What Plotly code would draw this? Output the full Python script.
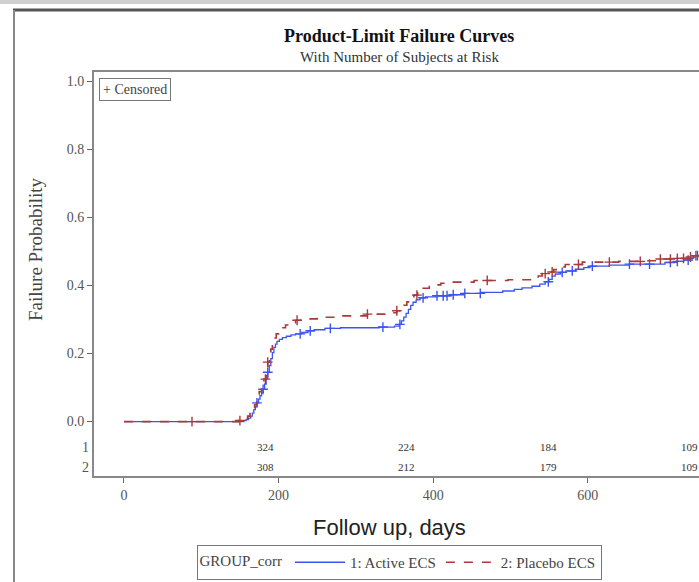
import numpy as np
import plotly.graph_objects as go

# ---- Kaplan-Meier failure estimates (event day, cumulative failure probability) ----
active_days = [0, 155, 158, 161, 164, 166, 168, 170, 172, 174, 176, 178, 180, 182, 184, 186,
               188, 190, 192, 194, 196, 198, 201, 205, 210, 216, 222, 230, 238, 246, 260,
               280, 330, 350, 356, 359, 362, 365, 368, 371, 374, 378, 383, 390, 405, 422,
               440, 462, 490, 505, 515, 528, 538, 545, 550, 554, 558, 565, 572, 584, 595,
               603, 628, 654, 700, 715, 724, 732, 737]
active_fail = [0.0, 0.003, 0.006, 0.010, 0.016, 0.025, 0.035, 0.045, 0.055, 0.066, 0.076,
               0.085, 0.095, 0.110, 0.127, 0.145, 0.165, 0.185, 0.203, 0.218, 0.228, 0.236,
               0.242, 0.247, 0.251, 0.255, 0.258, 0.262, 0.267, 0.270, 0.274, 0.276, 0.278,
               0.281, 0.286, 0.296, 0.307, 0.318, 0.330, 0.342, 0.351, 0.358, 0.364, 0.367,
               0.370, 0.373, 0.377, 0.380, 0.384, 0.389, 0.393, 0.398, 0.404, 0.411, 0.418,
               0.428, 0.434, 0.439, 0.443, 0.448, 0.453, 0.457, 0.460, 0.463, 0.468, 0.471,
               0.475, 0.480, 0.488]

placebo_days = [0, 148, 153, 157, 160, 163, 166, 169, 172, 175, 178, 181, 184, 186, 188, 190,
                192, 194, 197, 200, 204, 209, 215, 222, 232, 250, 280, 315, 340, 353, 358,
                362, 366, 370, 375, 380, 387, 395, 410, 425, 453, 497, 530, 536, 541, 548,
                556, 563, 571, 593, 640, 672, 694, 712, 733, 742]
placebo_fail = [0.0, 0.003, 0.006, 0.010, 0.016, 0.024, 0.035, 0.050, 0.068, 0.088, 0.105,
                0.125, 0.150, 0.175, 0.195, 0.213, 0.232, 0.246, 0.258, 0.266, 0.276, 0.284,
                0.291, 0.298, 0.302, 0.307, 0.311, 0.316, 0.320, 0.326, 0.333, 0.342, 0.352,
                0.362, 0.372, 0.381, 0.392, 0.402, 0.407, 0.410, 0.415, 0.417, 0.420, 0.428,
                0.435, 0.440, 0.447, 0.455, 0.462, 0.469, 0.471, 0.473, 0.478, 0.480, 0.484,
                0.488]

# censoring days
active_cens = [172, 180, 186, 228, 241, 267, 335, 357, 387, 405, 413, 418, 426, 441, 461,
               549, 567, 580, 606, 654, 680, 707, 716, 730, 740]
placebo_cens = [88, 150, 183, 186, 224, 315, 353, 379, 470, 545, 554, 588, 628, 668, 694,
                707, 716, 724, 733, 742]

last_day = 745

# number at risk (every half year)
risk_days = [183, 366, 549, 732]
risk_active = ["324", "224", "184", "109"]
risk_placebo = ["308", "212", "179", "109"]

group_names = ["1: Active ECS", "2: Placebo ECS"]
blue = "#3a55ee"
red = "#a83a3a"
serif = "Liberation Serif"

# pixel geometry of the plotting area
L, T, W, H = 94, 72, 605, 404


def px_x(px):
    return (px - L) / W


def px_y(py):
    return (T + H - py) / H


def fail_at(days, fail, t):
    i = np.searchsorted(np.asarray(days), t, side="right") - 1
    return np.asarray(fail)[i]


fig = go.Figure()

for days, fail, cens, name, col, dash, w in [
    (active_days, active_fail, active_cens, group_names[0], blue, "solid", 1.3),
    (placebo_days, placebo_fail, placebo_cens, group_names[1], red, "dash", 1.6),
]:
    fig.add_trace(go.Scatter(
        x=list(days) + [last_day], y=list(fail) + [fail[-1]],
        mode="lines", line=dict(color=col, width=w, dash=dash, shape="hv"),
        name=name, showlegend=True,
    ))
    fig.add_trace(go.Scatter(
        x=cens, y=fail_at(days, fail, cens), mode="markers",
        marker=dict(symbol="cross-thin", size=7, line=dict(color=col, width=1.4), color=col),
        showlegend=False, hoverinfo="skip",
    ))

# number-at-risk table rows
for row_y, vals in [(-0.075, risk_active), (-0.134, risk_placebo)]:
    for d, v in zip(risk_days, vals):
        fig.add_annotation(x=d, y=row_y, xref="x", yref="y", text=v, showarrow=False,
                           font=dict(family=serif, size=11, color="#333"))
for row_y, lab in [(-0.075, "1"), (-0.134, "2")]:
    fig.add_annotation(x=px_x(91), y=row_y, xref="paper", yref="y", text=lab, showarrow=False,
                       xanchor="right", font=dict(family=serif, size=14, color="#555"))

# titles
fig.add_annotation(x=px_x(399), y=px_y(36), xref="paper", yref="paper", yanchor="middle",
                   text="<b>Product-Limit Failure Curves</b>", showarrow=False,
                   font=dict(family=serif, size=18, color="#111"))
fig.add_annotation(x=px_x(399), y=px_y(57), xref="paper", yref="paper", yanchor="middle",
                   text="With Number of Subjects at Risk", showarrow=False,
                   font=dict(family=serif, size=15, color="#333"))
fig.add_annotation(x=px_x(389), y=px_y(527), xref="paper", yref="paper", yanchor="middle",
                   text="Follow up, days", showarrow=False,
                   font=dict(family="Liberation Sans", size=22, color="#222"))
fig.add_annotation(x=px_x(36), y=px_y(249), xref="paper", yref="paper",
                   xanchor="center", yanchor="middle",
                   text="Failure Probability", showarrow=False, textangle=-90,
                   font=dict(family=serif, size=19, color="#444"))

# censored key box
fig.add_annotation(x=px_x(99), y=px_y(78), xref="paper", yref="paper",
                   xanchor="left", yanchor="top", text="+ Censored", showarrow=False,
                   bordercolor="#777", borderwidth=1, borderpad=3, bgcolor="white",
                   font=dict(family=serif, size=14, color="#444"))

# outer frame of the output page
fig.add_shape(type="rect", xref="paper", yref="paper", x0=px_x(0), x1=1.0,
              y0=px_y(0), y1=px_y(4), fillcolor="#d0d0d0",
              line=dict(width=0), layer="below")
fig.add_shape(type="line", xref="paper", yref="paper", x0=px_x(13), x1=1.0,
              y0=px_y(10), y1=px_y(10), line=dict(color="#555", width=3))
fig.add_shape(type="line", xref="paper", yref="paper", x0=px_x(14), x1=px_x(14),
              y0=px_y(10), y1=px_y(582), line=dict(color="#888", width=2))

fig.update_layout(
    width=699, height=582,
    margin=dict(l=L, r=699 - L - W, t=T, b=582 - T - H),
    paper_bgcolor="white", plot_bgcolor="white",
    xaxis=dict(range=[-38.8, 744], tickvals=[0, 200, 400, 600], ticks="outside",
               ticklen=5, tickcolor="#666", showgrid=False, zeroline=False,
               showline=True, linecolor="#888", linewidth=2, mirror=True,
               tickfont=dict(family=serif, size=14, color="#555")),
    yaxis=dict(range=[-0.160, 1.028], tickvals=[0, 0.2, 0.4, 0.6, 0.8, 1.0],
               tickformat=".1f", ticks="outside", ticklen=5, tickcolor="#666",
               showgrid=False, zeroline=False, showline=True, linecolor="#888",
               linewidth=2, tickfont=dict(family=serif, size=14, color="#555")),
    legend=dict(orientation="h", x=px_x(399), xanchor="center", y=px_y(545),
                yanchor="top", bordercolor="#777", borderwidth=1,
                title=dict(text="GROUP_corr", font=dict(family=serif, size=15, color="#444")),
                font=dict(family=serif, size=15, color="#444"), itemwidth=50,
                tracegroupgap=0),
    showlegend=True,
)

fig.write_html("out.html")
